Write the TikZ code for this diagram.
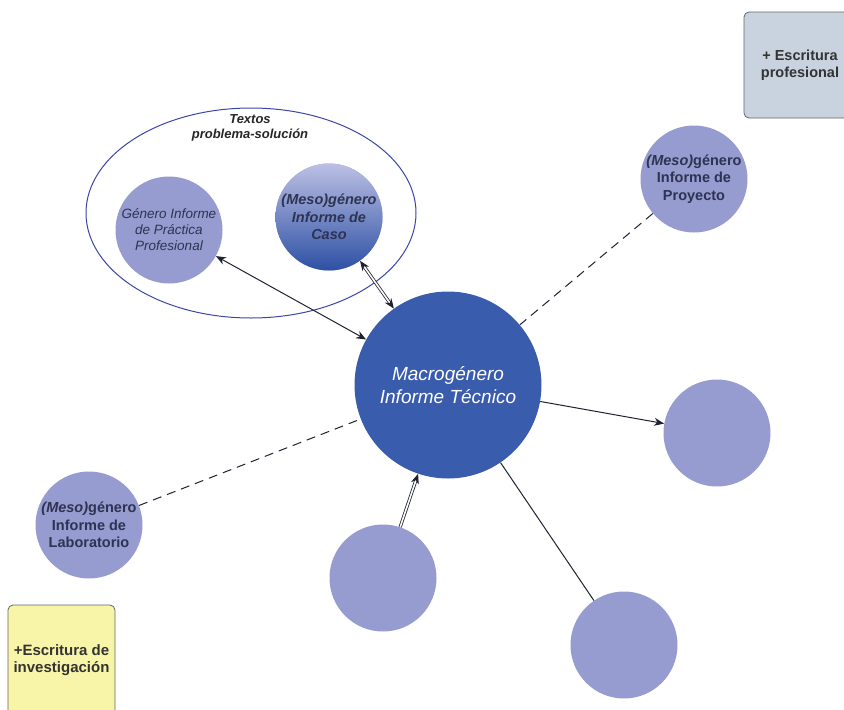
\documentclass[tikz,border=0pt]{standalone}
\usepackage{fontspec}
\setmainfont{Liberation Sans}
\usepackage{tikz}
\usetikzlibrary{arrows.meta, positioning, shapes.geometric, calc}
\definecolor{macroblue}{HTML}{3A5CAD}
\definecolor{mesolila}{HTML}{969BD0}
\definecolor{casotop}{HTML}{BCC0E4}
\definecolor{casobot}{HTML}{2D50A4}
\definecolor{rimblue}{HTML}{3A45A8}
\definecolor{labelink}{HTML}{2E3352}
\definecolor{tipink}{HTML}{1E2230}
\definecolor{profgray}{HTML}{C9D3E0}
\definecolor{invyellow}{HTML}{F8F4A8}

\begin{document}
\begin{tikzpicture}[x=1pt, y=-1pt,
    meso/.style={circle, fill=mesolila, minimum size=107pt, inner sep=0pt, align=center, text=labelink, font=\fontsize{14.5}{17.5}\selectfont\bfseries},
    link/.style={line width=1pt, tipink},
    dlink/.style={line width=0.8pt, tipink, double=white, double distance=1.6pt},
    dashlink/.style={line width=1pt, tipink, dash pattern=on 9pt off 6pt},
    note/.style={rounded corners=5pt, draw=black!60, line width=0.8pt, align=center, font=\fontsize{14.5}{16.5}\selectfont\bfseries, text=black!80}]
    \clip (0,0) rectangle (844,710);
    % Group of problem-solution texts
    \node[ellipse, draw=rimblue, line width=1pt, minimum width=330pt, minimum height=210pt] (grupo) at (251,213) {};
    \node[font=\fontsize{13}{15}\selectfont\bfseries\itshape, text=black!85, align=center] (grupotit) at (250,128) {Textos\\problema-solución};
    % Macrogenre
    \node[circle, fill=macroblue, minimum size=187pt, inner sep=0pt, align=center, text=white, font=\fontsize{19}{23}\selectfont\itshape] (macro) at (448,385) {Macrogénero\\Informe Técnico};
    % Genres around it
    \node[meso, font=\fontsize{13.5}{16}\selectfont\itshape] (practica) at (169,230) {Género Informe\\de Práctica\\Profesional};
    \node[meso, top color=casotop, bottom color=casobot, font=\fontsize{14.5}{17.5}\selectfont\bfseries\itshape] (caso) at (329,217) {(Meso)género\\Informe de\\Caso};
    \node[meso] (proyecto) at (694,179) {\textit{(Meso)}género\\Informe de\\Proyecto};
    \node[meso] (laboratorio) at (89,525) {\textit{(Meso)}género\\Informe de\\Laboratorio};
    \node[meso] (derecha) at (717,433) {};
    \node[meso] (abajoizq) at (383,578) {};
    \node[meso] (abajoder) at (624,645) {};
    % Connectors
    \draw[link, {Stealth[length=10pt, width=8pt]}-{Stealth[length=10pt, width=8pt]}] (practica) -- (macro);
    \draw[dlink, {Stealth[length=10pt, width=8pt]}-{Stealth[length=10pt, width=8pt]}] (caso) -- (macro);
    \draw[dashlink] (proyecto) -- (macro);
    \draw[dashlink] (laboratorio) -- (macro);
    \draw[link, -{Stealth[length=10pt, width=8pt]}] (macro) -- (derecha);
    \draw[dlink, -{Stealth[length=10pt, width=8pt]}] (abajoizq) -- (macro);
    \draw[link] (macro) -- (abajoder);
    % Writing boxes
    \node[note, fill=profgray, minimum width=112pt, minimum height=106pt] (profesional) at (800,65) {+ Escritura\\profesional};
    \node[note, fill=invyellow, minimum width=107pt, minimum height=110pt, font=\fontsize{15}{16.5}\selectfont\bfseries] (investigacion) at (61.5,660) {+Escritura de\\investigación};
\end{tikzpicture}
\end{document}
